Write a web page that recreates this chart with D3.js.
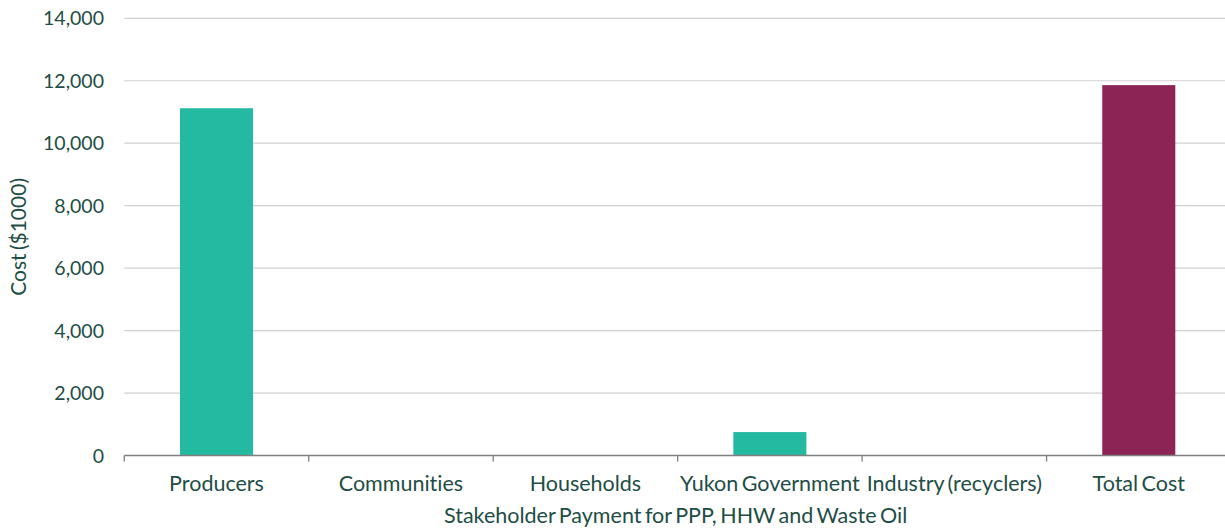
<!DOCTYPE html>
<html>
<head>
<meta charset="utf-8">
<script src="https://cdn.jsdelivr.net/npm/d3@7"></script>
<style>
  html, body { margin: 0; padding: 0; background: #fff; }
  svg { display: block; font-family: Lato, "Noto Sans", sans-serif; font-variant-ligatures: none; font-feature-settings: "liga" 0; }
  .label { word-spacing: -2px; }
</style>
</head>
<body>
<svg id="chart" width="1225" height="529"></svg>
<script>
// Stakeholder payments, in thousands of dollars
const categories = ["Producers", "Communities", "Households", "Yukon Government", "Industry (recyclers)", "Total Cost"];
const costs = [11120, 0, 0, 750, 0, 11860];
const yTicks = [0, 2000, 4000, 6000, 8000, 10000, 12000, 14000];
const xTitle = "Stakeholder Payment for PPP, HHW and Waste Oil";
const yTitle = "Cost ($1000)";

const textColor = "#1e4d45";
const teal = "#24b9a1";
const maroon = "#8c2455";

const svg = d3.select("#chart");
const plotLeft = 124.3, plotRight = 1231, plotTop = 18.3, plotBottom = 455.5;

const x = d3.scaleBand()
  .domain(categories)
  .range([plotLeft, plotRight])
  .paddingInner(0.604)
  .paddingOuter(0.302);

const y = d3.scaleLinear().domain([0, 14000]).range([plotBottom, plotTop]);

// horizontal gridlines
svg.append("g")
  .selectAll("line")
  .data(yTicks.filter(d => d > 0))
  .join("line")
  .attr("x1", plotLeft).attr("x2", plotRight)
  .attr("y1", d => y(d)).attr("y2", d => y(d))
  .attr("stroke", "#d0d0d0").attr("stroke-width", 1.2);

// y tick labels
svg.append("g")
  .selectAll("text")
  .data(yTicks)
  .join("text")
  .attr("x", 104)
  .attr("y", d => y(d))
  .attr("dy", "0.36em")
  .attr("text-anchor", "end")
  .attr("font-size", 19.5)
  .attr("fill", textColor)
  .text(d => d3.format(",")(d));

// bars
svg.append("g")
  .selectAll("rect")
  .data(categories.map((c, i) => ({ c, v: costs[i] })))
  .join("rect")
  .attr("x", d => x(d.c))
  .attr("width", x.bandwidth())
  .attr("y", d => y(d.v))
  .attr("height", d => y(0) - y(d.v))
  .attr("fill", d => d.c === "Total Cost" ? maroon : teal);

// x axis line and category boundary ticks
const step = x.step();
const boundaries = d3.range(categories.length + 1).map(i => plotLeft + i * step);
svg.append("line")
  .attr("x1", plotLeft).attr("x2", plotRight)
  .attr("y1", plotBottom).attr("y2", plotBottom)
  .attr("stroke", "#7f7f7f").attr("stroke-width", 1.3);
svg.append("g")
  .selectAll("line")
  .data(boundaries)
  .join("line")
  .attr("x1", d => d).attr("x2", d => d)
  .attr("y1", plotBottom).attr("y2", plotBottom + 6)
  .attr("stroke", "#7f7f7f").attr("stroke-width", 1.3);

// category labels
svg.append("g")
  .selectAll("text")
  .data(categories)
  .join("text")
  .attr("class", "label")
  .attr("x", d => x(d) + x.bandwidth() / 2)
  .attr("y", 491)
  .attr("text-anchor", "middle")
  .attr("font-size", 21.5)
  .attr("fill", textColor)
  .text(d => d);

// axis titles
svg.append("text")
  .attr("class", "label")
  .attr("x", (plotLeft + plotRight) / 2 - 2)
  .attr("y", 523)
  .attr("text-anchor", "middle")
  .attr("font-size", 21.5)
  .attr("fill", textColor)
  .text(xTitle);

svg.append("text")
  .attr("class", "label")
  .attr("transform", `translate(26, ${(plotTop + plotBottom) / 2}) rotate(-90)`)
  .attr("text-anchor", "middle")
  .attr("font-size", 21)
  .attr("fill", textColor)
  .text(yTitle);
</script>
</body>
</html>
